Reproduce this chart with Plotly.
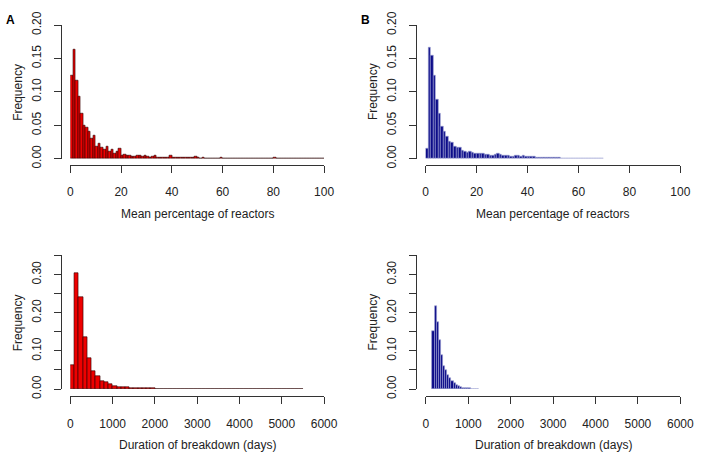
import numpy as np
import plotly.graph_objects as go

# ---- data (relative frequencies per bin) ----
a_bin_start, a_bin_width = 0, 1
a_freq = [0.124, 0.164, 0.117, 0.093, 0.068, 0.050, 0.046, 0.040, 0.030, 0.035,
          0.018, 0.022, 0.017, 0.013, 0.018, 0.011, 0.014, 0.008, 0.010, 0.015,
          0.004, 0.006, 0.005, 0.005, 0.003, 0.003, 0.004, 0.004, 0.0035, 0.004,
          0.003, 0.002, 0.0025, 0.0045, 0.002, 0.002, 0.0015, 0.002, 0.002, 0.004,
          0.001, 0.0015, 0.001, 0.0012, 0.001, 0.001, 0.0012, 0.001, 0.001, 0.003,
          0.001, 0.0008, 0.001, 0.0008, 0.0008, 0.0007, 0.0008, 0.0007, 0.0007, 0.0015,
          0.0007, 0.0006, 0.0006, 0.0006, 0.0007, 0.0006, 0.0005, 0.0006, 0.0005, 0.0005,
          0.0005, 0.0005, 0.0005, 0.0005, 0.0004, 0.0004, 0.0004, 0.0004, 0.0004, 0.0004,
          0.001, 0.0004, 0.0004, 0.0004, 0.0008, 0.0004, 0.0003, 0.0003, 0.0003, 0.0003,
          0.0006, 0.0003, 0.0003, 0.0003, 0.0003, 0.0003, 0.0003, 0.0003, 0.0003, 0.0003]

b_bin_start, b_bin_width = 0, 1
b_freq = [0.015, 0.167, 0.154, 0.125, 0.089, 0.067, 0.048, 0.040, 0.033, 0.025,
          0.024, 0.018, 0.017, 0.016, 0.012, 0.011, 0.0085, 0.010, 0.009, 0.008,
          0.0075, 0.007, 0.007, 0.0065, 0.0055, 0.0045, 0.005, 0.0055, 0.0075, 0.0055,
          0.0045, 0.004, 0.004, 0.0035, 0.0035, 0.0045, 0.004, 0.0035, 0.004, 0.003,
          0.003, 0.0025, 0.0025, 0.002, 0.002, 0.0018, 0.0015, 0.0015, 0.0012, 0.0012,
          0.001, 0.001, 0.001, 0.0009, 0.0009, 0.0008, 0.0008, 0.0008, 0.0007, 0.0007,
          0.0007, 0.0006, 0.0006, 0.0006, 0.0005, 0.0005, 0.0005, 0.0005, 0.0004, 0.0004]

c_bin_start, c_bin_width = 0, 100
c_freq = [0.062, 0.303, 0.241, 0.136, 0.080, 0.048, 0.034, 0.022, 0.0175, 0.012,
          0.0075, 0.006, 0.0045, 0.004, 0.0033, 0.0025, 0.002, 0.0018, 0.0015, 0.0013,
          0.0012, 0.001, 0.0009, 0.0008, 0.0007, 0.0006, 0.0006, 0.0005, 0.0005, 0.0004,
          0.0004, 0.0004, 0.0003, 0.0003, 0.0003, 0.0003, 0.0003, 0.0003, 0.0003, 0.0003,
          0.0002, 0.0002, 0.0002, 0.0002, 0.0002, 0.0002, 0.0002, 0.0002, 0.0002, 0.0002,
          0.0002, 0.0002, 0.0002, 0.0002, 0.0002]

d_bin_start, d_bin_width = 150, 50
d_freq = [0.151, 0.218, 0.175, 0.128, 0.089, 0.059, 0.050, 0.036, 0.030, 0.020,
          0.015, 0.011, 0.008, 0.005, 0.0035, 0.0025, 0.002, 0.0015, 0.001, 0.0008,
          0.0005, 0.0004]

x_title_top = "Mean percentage of reactors"
x_title_bottom = "Duration of breakdown (days)"
y_title = "Frequency"
top_xticks = [0, 20, 40, 60, 80, 100]
bottom_xticks = [0, 1000, 2000, 3000, 4000, 5000, 6000]
top_yticks = [0.00, 0.05, 0.10, 0.15, 0.20]
bottom_yticks = [0.00, 0.05, 0.10, 0.15, 0.20, 0.25, 0.30, 0.35]
bottom_ylabels = ["0.00", "", "0.10", "", "0.20", "", "0.30", ""]

W, H = 708, 463
RED, RED_EDGE = "#ee0000", "#2a0000"
BLUE, BLUE_EDGE = "#0c0c88", "#9ea2d4"

def centers(start, width, n):
    return start + width * (np.arange(n) + 0.5)

fig = go.Figure()
panels = [
    (a_freq, a_bin_start, a_bin_width, RED, RED_EDGE, "x", "y"),
    (b_freq, b_bin_start, b_bin_width, BLUE, BLUE_EDGE, "x2", "y2"),
    (c_freq, c_bin_start, c_bin_width, RED, RED_EDGE, "x3", "y3"),
    (d_freq, d_bin_start, d_bin_width, BLUE, BLUE_EDGE, "x4", "y4"),
]
for freq, s, w, col, edge, xa, ya in panels:
    fig.add_trace(go.Bar(x=centers(s, w, len(freq)), y=freq, width=w,
                         marker=dict(color=col, line=dict(color=edge, width=0.6)),
                         xaxis=xa, yaxis=ya, showlegend=False, hoverinfo="skip"))

def px_x(x):
    return x / W

def px_y(y):
    return 1 - y / H

font = dict(family="Liberation Sans, Arial, sans-serif", size=12, color="#222")
axis_common = dict(showline=True, linecolor="#333", linewidth=1, ticks="outside",
                   ticklen=7, tickcolor="#333", showgrid=False, zeroline=False,
                   tickfont=font, anchor="free", fixedrange=True,
                   ticklabeloverflow="allow")

# layout geometry in pixels (left, right, bottom, top for data area)
geom = {
    "1": dict(x0=69, x1=329, y0=153.3, y1=12.7, xline=159.5, yline=59.3),
    "2": dict(x0=433, x1=694, y0=153.3, y1=12.7, xline=159.5, yline=423.3),
    "3": dict(x0=69, x1=329, y0=395.7, y1=255.3, xline=403.5, yline=59.3),
    "4": dict(x0=433.3, x1=694, y0=395.7, y1=255.3, xline=403.5, yline=423.3),
}
layout = dict(width=W, height=H, margin=dict(l=0, r=0, t=0, b=0),
              plot_bgcolor="white", paper_bgcolor="white", bargap=0,
              font=font)
eps = 1e-4
yeps = 4e-3
for k, g in geom.items():
    xs = "" if k == "1" else k
    top = k in ("1", "2")
    xr = [0, 100] if top else [0, 6000]
    xr = [xr[0] - xr[1] * eps, xr[1] * (1 + eps)]
    ymax = 0.2 if top else 0.35
    y1px = g["y1"] - (g["y0"] - g["y1"]) * yeps
    layout["xaxis" + xs] = dict(axis_common, domain=[px_x(g["x0"]), px_x(g["x1"])],
                                range=xr, position=px_y(g["xline"]),
                                tickvals=top_xticks if top else bottom_xticks,
                                ticktext=[str(v) for v in (top_xticks if top else bottom_xticks)],
                                ticklabelstandoff=9)
    layout["yaxis" + xs] = dict(axis_common, domain=[px_y(g["y0"]), px_y(y1px)],
                                range=[0, ymax * (1 + yeps)], position=px_x(g["yline"]),
                                tickvals=top_yticks if top else bottom_yticks,
                                ticktext=[f"{v:.2f}" for v in top_yticks] if top else bottom_ylabels,
                                tickangle=-90, ticklabelstandoff=8)
fig.update_layout(**layout)

ann = []
for k, g in geom.items():
    top = k in ("1", "2")
    ann.append(dict(text=x_title_top if top else x_title_bottom, xref="paper", yref="paper",
                    x=px_x((g["x0"] + g["x1"]) / 2), y=px_y(212 if top else 455),
                    showarrow=False, font=font, xanchor="center", yanchor="middle"))
    ann.append(dict(text=y_title, xref="paper", yref="paper",
                    x=px_x(g["yline"] - 44), y=px_y((g["y0"] + g["y1"]) / 2),
                    showarrow=False, font=font, textangle=-90,
                    xanchor="center", yanchor="middle"))
ann.append(dict(text="<b>A</b>", xref="paper", yref="paper", x=px_x(8), y=px_y(7),
                showarrow=False, font=dict(font, size=12, color="black"),
                xanchor="center", yanchor="middle"))
ann.append(dict(text="<b>B</b>", xref="paper", yref="paper", x=px_x(371), y=px_y(7),
                showarrow=False, font=dict(font, size=12, color="black"),
                xanchor="center", yanchor="middle"))
fig.update_layout(annotations=ann)

fig.write_html("out.html", config={"displayModeBar": False},
               post_script="document.body.style.margin='0';document.body.style.overflow='hidden';")
